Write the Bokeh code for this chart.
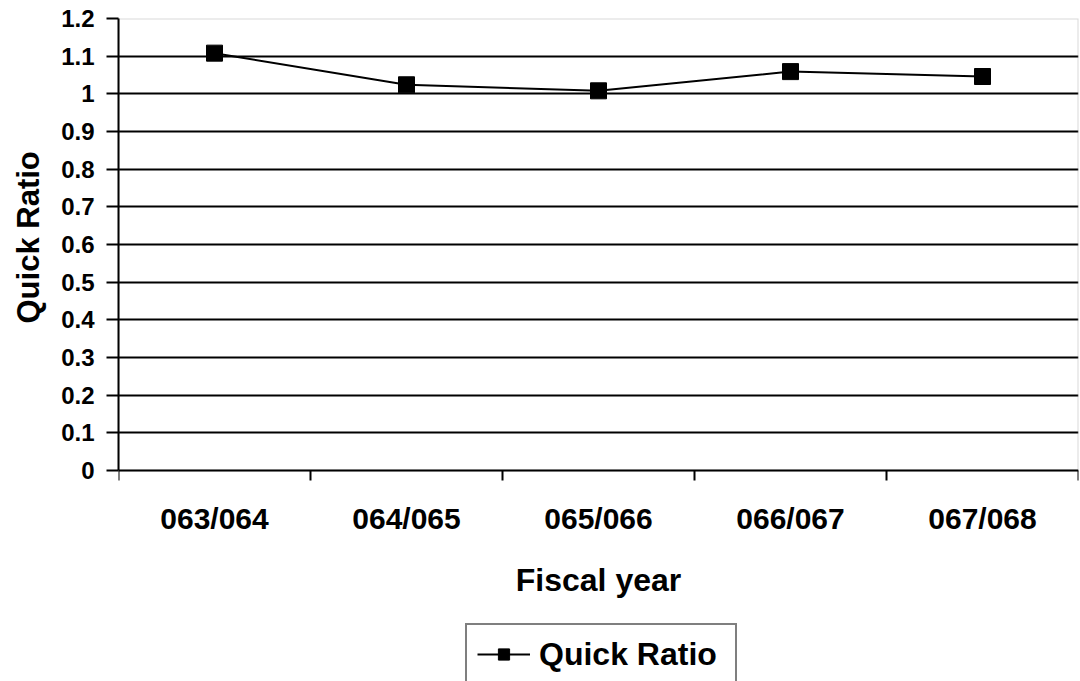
from bokeh.plotting import figure
from bokeh.models import Range1d, FixedTicker, Legend, LegendItem, BoxAnnotation, Title
from bokeh.embed import file_html
from bokeh.resources import INLINE

# ---- data ----
fiscal_years = ["063/064", "064/065", "065/066", "066/067", "067/068"]
quick_ratio = [1.108, 1.024, 1.008, 1.059, 1.046]
y_ticks = [0, 0.1, 0.2, 0.3, 0.4, 0.5, 0.6, 0.7, 0.8, 0.9, 1.0, 1.1, 1.2]
y_tick_labels = ["0", "0.1", "0.2", "0.3", "0.4", "0.5", "0.6", "0.7", "0.8", "0.9", "1", "1.1", "1.2"]

FONT = "Liberation Sans"

n = len(fiscal_years)
x_pos = [i + 0.5 for i in range(n)]
boundaries = list(range(n + 1))

# layout: plot area (0..1.2) spans 452 px; the area below the axis is kept inside the frame
W, H = 1080, 681
TOP, LEFT, RIGHT = 18, 118, 2
AXIS_PX = 452
px_per_unit = AXIS_PX / (y_ticks[-1] - y_ticks[0])
below_px = H - TOP - AXIS_PX
y_start = y_ticks[0] - below_px / px_per_unit

p = figure(width=W, height=H, x_range=Range1d(0, n), y_range=Range1d(y_start, y_ticks[-1]),
           output_backend="svg", toolbar_location=None,
           min_border_left=LEFT, min_border_right=RIGHT, min_border_top=TOP, min_border_bottom=0)
p.background_fill_color = "white"
p.border_fill_color = "white"
p.outline_line_color = None

# grey plot-area border (left/bottom hidden under the axes)
p.add_layout(BoxAnnotation(left=0, right=n, bottom=y_ticks[0], top=y_ticks[-1],
                           fill_alpha=0, line_color="#808080", line_width=2, level="underlay"))

# grid
p.xgrid.visible = False
p.ygrid.ticker = FixedTicker(ticks=y_ticks[1:-1], minor_ticks=[])
p.ygrid.grid_line_color = "black"
p.ygrid.grid_line_width = 2

# y axis
p.yaxis.bounds = (y_ticks[0], y_ticks[-1])
p.yaxis.ticker = FixedTicker(ticks=y_ticks, minor_ticks=[])
p.yaxis.major_label_overrides = {t: l for t, l in zip(y_ticks, y_tick_labels)}
p.yaxis.axis_line_color = "black"
p.yaxis.axis_line_width = 2
p.yaxis.major_tick_out = 12
p.yaxis.major_tick_in = 0
p.yaxis.major_tick_line_width = 2
p.yaxis.major_tick_line_color = "black"
p.yaxis.major_label_standoff = 12
p.yaxis.major_label_text_font = FONT
p.yaxis.major_label_text_font_style = "bold"
p.yaxis.major_label_text_font_size = "24px"
p.yaxis.major_label_text_color = "black"

# y axis title (placed alongside the 0..1.2 part of the axis)
ytitle = Title(text="Quick Ratio", align="left", offset=358, standoff=21, vertical_align="top",
               text_font=FONT, text_font_size="31px", text_font_style="bold", text_color="black")
p.add_layout(ytitle, "left")

# x axis (fixed at y = 0)
p.xaxis.fixed_location = y_ticks[0]
p.xaxis.ticker = FixedTicker(ticks=x_pos, minor_ticks=boundaries)
p.xaxis.major_label_overrides = {x: l for x, l in zip(x_pos, fiscal_years)}
p.xaxis.axis_line_color = "black"
p.xaxis.axis_line_width = 2
p.xaxis.major_tick_out = 0
p.xaxis.major_tick_in = 0
p.xaxis.minor_tick_out = 10
p.xaxis.minor_tick_in = 0
p.xaxis.minor_tick_line_width = 2
p.xaxis.minor_tick_line_color = "black"
p.xaxis.major_label_standoff = 21
p.xaxis.major_label_text_font = FONT
p.xaxis.major_label_text_font_style = "bold"
p.xaxis.major_label_text_font_size = "30px"
p.xaxis.major_label_text_color = "black"
p.xaxis.axis_label = "Fiscal year"
p.xaxis.axis_label_text_font = FONT
p.xaxis.axis_label_text_font_style = "bold"
p.xaxis.axis_label_text_font_size = "32px"
p.xaxis.axis_label_text_color = "black"
p.xaxis.axis_label_standoff = 24

r_line = p.line(x_pos, quick_ratio, line_color="black", line_width=2)
r_mark = p.scatter(x_pos, quick_ratio, marker="square", size=16, fill_color="black", line_color="black")

legend = Legend(items=[LegendItem(label="Quick Ratio", renderers=[r_line, r_mark])],
                location=(347, -4), orientation="vertical")
legend.border_line_color = "black"
legend.border_line_width = 2
legend.background_fill_color = "white"
legend.background_fill_alpha = 1
legend.padding = 10
legend.margin = 0
legend.spacing = 0
legend.glyph_width = 53
legend.glyph_height = 28
legend.label_height = 38
legend.label_width = 186
legend.label_standoff = 9
legend.label_text_font = FONT
legend.label_text_font_style = "bold"
legend.label_text_font_size = "32px"
legend.label_text_color = "black"
p.add_layout(legend, "center")

open("out.html", "w").write(file_html(p, INLINE))
